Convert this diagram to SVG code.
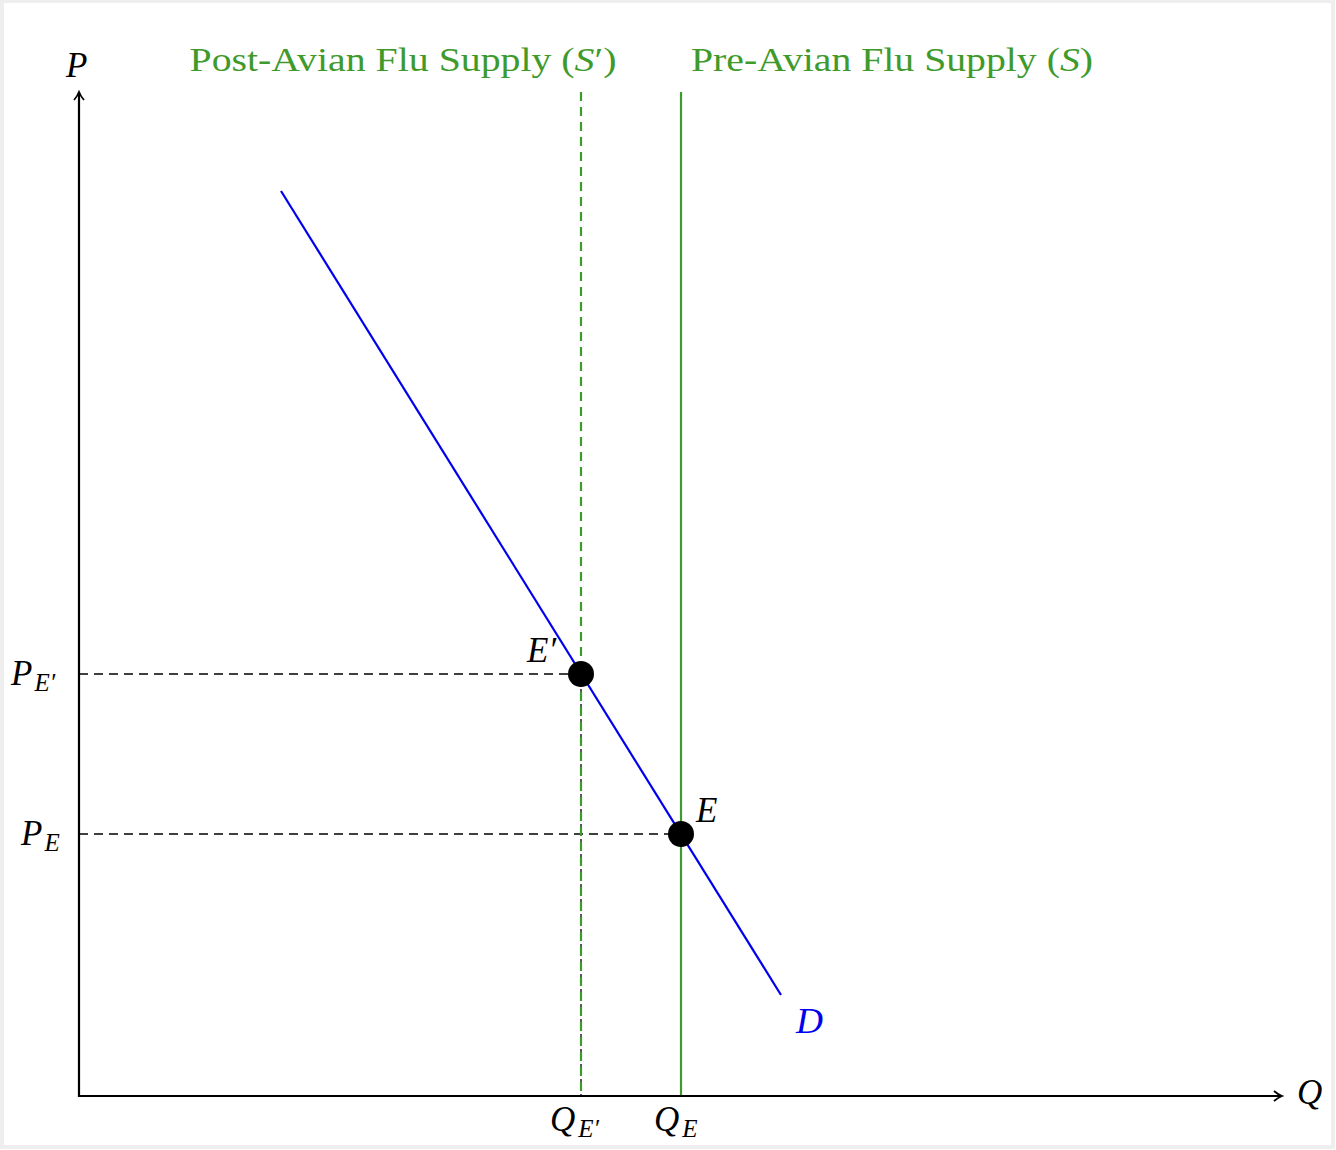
<svg xmlns="http://www.w3.org/2000/svg" width="1336" height="1150" viewBox="0 0 1336 1150">
<defs>
<style>
text{font-family:"Liberation Serif","DejaVu Serif",serif;}
.it{font-style:italic;}
.g{fill:#3f9a2c;}
.lbl{font-size:35px;fill:#000;}
.sub{font-size:25px;}
.axis{stroke:#000;stroke-width:2.2;fill:none;}
.guide{stroke:#000;stroke-width:1.3;stroke-dasharray:9 6;fill:none;}
</style>
<marker id="ah" viewBox="0 0 12 12" refX="10" refY="6" markerWidth="12" markerHeight="12" markerUnits="userSpaceOnUse" orient="auto">
<path d="M2,1 Q6,4.5 10,6 Q6,7.5 2,11" fill="none" stroke="#000" stroke-width="1.8"/>
</marker>
</defs>
<rect x="0" y="0" width="1336" height="1150" fill="#ffffff"/>
<rect x="2" y="1" width="1331" height="1146" fill="none" stroke="#eeeeee" stroke-width="4"/>
<g id="connectors">
<line class="guide" x1="79" y1="674" x2="581" y2="674"/>
<line class="guide" x1="79" y1="834" x2="681" y2="834"/>
<line class="guide" x1="581" y1="674" x2="581" y2="1096"/>
<line class="guide" x1="681" y1="834" x2="681" y2="1096"/>
</g>
<g id="supply-post">
<line x1="581" y1="92" x2="581" y2="1096" stroke="#3f9a2c" stroke-width="2.2" stroke-dasharray="9 6"/>
<text class="g" x="403" y="71" font-size="33" text-anchor="middle" textLength="427" lengthAdjust="spacingAndGlyphs">Post-Avian Flu Supply (<tspan class="it">S</tspan>′)</text>
</g>
<g id="supply-pre">
<line x1="681" y1="92" x2="681" y2="1096" stroke="#3f9a2c" stroke-width="2.2"/>
<text class="g" x="892" y="71" font-size="33" text-anchor="middle" textLength="402" lengthAdjust="spacingAndGlyphs">Pre-Avian Flu Supply (<tspan class="it">S</tspan>)</text>
</g>
<g id="demand">
<line x1="281" y1="191" x2="781" y2="995" stroke="#0000ee" stroke-width="2.2"/>
<text class="it" x="796" y="1033" font-size="35" fill="#0000ee" textLength="27" lengthAdjust="spacingAndGlyphs">D</text>
</g>
<g id="axes">
<line class="axis" x1="79" y1="1097" x2="79" y2="92" marker-end="url(#ah)"/>
<line class="axis" x1="78" y1="1096" x2="1282" y2="1096" marker-end="url(#ah)"/>
<text class="lbl it" x="66" y="77">P</text>
<text class="lbl it" x="1297" y="1104">Q</text>
</g>
<g id="point-E-prime">
<circle cx="581" cy="674" r="13" fill="#000"/>
<text class="lbl it" x="527" y="662">E′</text>
</g>
<g id="point-E">
<circle cx="681" cy="834" r="13" fill="#000"/>
<text class="lbl it" x="696" y="822">E</text>
</g>
<g id="price-labels">
<text class="lbl it" x="11" y="685">P<tspan class="sub" dy="6" dx="2">E′</tspan></text>
<text class="lbl it" x="21" y="845">P<tspan class="sub" dy="6" dx="2">E</tspan></text>
</g>
<g id="quantity-labels">
<text class="lbl it" x="550" y="1131">Q<tspan class="sub" dy="6" dx="3">E′</tspan></text>
<text class="lbl it" x="654" y="1131">Q<tspan class="sub" dy="6" dx="3">E</tspan></text>
</g>
</svg>
